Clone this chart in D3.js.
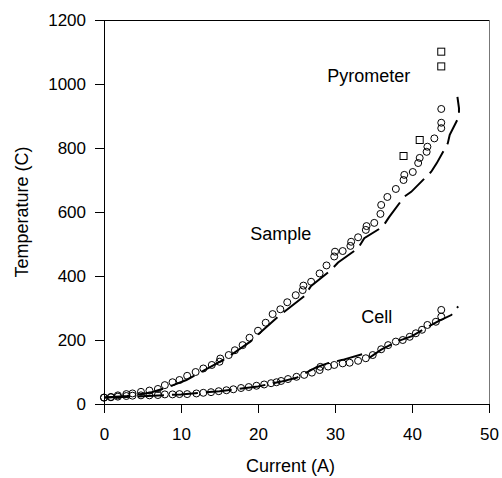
<!DOCTYPE html>
<html>
<head>
<meta charset="utf-8">
<script src="https://cdnjs.cloudflare.com/ajax/libs/d3/7.8.5/d3.min.js"></script>
<style>
  body { margin: 0; background: #fff; }
  .chart text { font-family: "Liberation Sans", Arial, sans-serif; fill: #000; }
</style>
</head>
<body>
<div class="chart"></div>
<script>
// Temperature vs current chart

// ---- data ----
var sampleCurrent = [0, 0.9, 1.8, 2.9, 3.7, 4.8, 5.9, 7.0, 7.9, 8.9, 9.8, 10.8, 11.9, 12.9, 14.0, 15.0, 15.1,
    16.2, 17.0, 18.0, 18.9, 20.0, 21.0, 21.9, 22.9, 23.8, 24.9, 25.8, 25.9, 26.9, 28.0, 28.9, 29.9, 30.0,
    31.0, 32.0, 32.1, 33.0, 34.0, 34.1, 35.1, 35.9, 36.0, 36.8, 37.9, 38.9, 39.0, 40.1, 40.8, 41.0, 41.9,
    42.0, 42.9, 43.8, 43.8, 43.8];
var sampleTemp = [20, 22, 27, 31, 33, 38, 42, 47, 59, 68, 75, 88, 100, 111, 122, 132, 142,
    153, 168, 184, 207, 229, 254, 281, 296, 318, 340, 356, 370, 382, 408, 433, 461, 476,
    478, 494, 507, 521, 544, 556, 566, 594, 622, 647, 672, 700, 716, 725, 753, 769, 788,
    804, 830, 862, 879, 922];

var sampleLineCurrent = [0, 3, 6, 8, 10.7, 13, 16, 19, 22.6, 26, 26.9, 29.5, 30.4, 33, 33.8, 36.2, 37.0,
    39.0, 39.9, 42.5, 43.2, 44.65, 44.9, 46.1, 46.1, 45.9];
var sampleLineTemp = [20, 25, 35, 50, 75, 105, 145, 195, 273, 337, 369, 419, 442, 487, 518, 554, 583,
    648, 663, 726, 752, 815, 841, 898, 925, 960];

var cellCurrent = [0, 0.9, 1.8, 2.9, 3.7, 4.8, 5.9, 7.0, 7.9, 8.9, 9.8, 10.8, 12.0, 12.9, 13.9, 14.9, 15.9,
    16.8, 17.8, 18.8, 19.8, 20.8, 21.7, 22.4, 23.0, 23.9, 25.0, 26.0, 27.0, 28.0, 28.1, 29.1, 29.9, 31.0,
    31.9, 33.0, 34.0, 34.9, 36.0, 36.9, 37.9, 38.8, 39.7, 40.5, 41.3, 42.0, 43.1, 43.8, 43.8];
var cellTemp = [20, 21, 23, 25, 26, 27, 27, 28, 30, 30, 31, 31, 33, 35, 37, 40, 43,
    46, 50, 53, 57, 61, 65, 68, 72, 78, 85, 91, 98, 106, 116, 117, 122, 127,
    129, 135, 143, 153, 171, 184, 195, 200, 210, 221, 232, 247, 257, 273, 294];

var cellLineCurrent = [0, 5, 10, 15, 20, 23, 25, 27.6, 29, 31, 33.6, 34.5, 36, 38, 40, 42, 43.5, 45.1, 46];
var cellLineTemp = [20, 24, 30, 40, 55, 70, 82, 115, 127, 138, 156, 145, 170, 195, 212, 240, 260, 278, 305];

var pyroCurrent = [38.9, 41.0, 43.8, 43.8];
var pyroTemp = [775, 825, 1055, 1101];

var xTicks = [0, 10, 20, 30, 40, 50];
var yTicks = [0, 200, 400, 600, 800, 1000, 1200];

var labels = [
    { text: "Pyrometer", x: 29, y: 1006 },
    { text: "Sample", x: 19, y: 512 },
    { text: "Cell", x: 33.4, y: 253 }
];

var svgWidth = 502;
var svgHeight = 478;

var margin = {
    top: 20,
    right: 13,
    bottom: 74,
    left: 104
};

var width = svgWidth - margin.left - margin.right;
var height = svgHeight - margin.top - margin.bottom;

var svg = d3.select(".chart")
    .append("svg")
    .attr("width", svgWidth)
    .attr("height", svgHeight);

var chartGroup = svg.append("g")
    .attr("transform", `translate(${margin.left}, ${margin.top})`);

// scales
var xLinearScale = d3.scaleLinear()
    .domain([0, 50])
    .range([0, width]);

var yLinearScale = d3.scaleLinear()
    .domain([0, 1200])
    .range([height, 0]);

// frame (top and right)
chartGroup.append("line")
    .attr("x1", 0).attr("x2", width)
    .attr("y1", 0.5).attr("y2", 0.5)
    .attr("stroke", "#000");

chartGroup.append("line")
    .attr("x1", width + 0.5).attr("x2", width + 0.5)
    .attr("y1", 0).attr("y2", height)
    .attr("stroke", "#777");

// axes
var bottomAxis = d3.axisBottom(xLinearScale)
    .tickValues(xTicks)
    .tickFormat(d3.format("d"))
    .tickSizeOuter(0)
    .tickSizeInner(9)
    .tickPadding(15);

var leftAxis = d3.axisLeft(yLinearScale)
    .tickValues(yTicks)
    .tickFormat(d3.format("d"))
    .tickSizeOuter(0)
    .tickSizeInner(9)
    .tickPadding(9);

var xAxisG = chartGroup.append("g")
    .attr("transform", `translate(0, ${height})`)
    .call(bottomAxis);

var yAxisG = chartGroup.append("g")
    .call(leftAxis);

[xAxisG, yAxisG].forEach(function (g) {
    g.selectAll("text").style("font-size", "17px").style("font-family", "'Liberation Sans', Arial, sans-serif");
    g.select(".domain").attr("stroke", "#000");
    g.selectAll(".tick line").attr("stroke", "#000");
});

// lines
var line = d3.line()
    .x(d => xLinearScale(d[0]))
    .y(d => yLinearScale(d[1]));

var sampleLine = d3.zip(sampleLineCurrent, sampleLineTemp);
var cellLine = d3.zip(cellLineCurrent, cellLineTemp);

[sampleLine, cellLine].forEach(function (pts) {
    chartGroup.append("path")
        .datum(pts)
        .attr("d", line)
        .attr("fill", "none")
        .attr("stroke", "#000")
        .attr("stroke-width", 2)
        .attr("stroke-dasharray", "26,8");
});

// circles
var circleData = d3.zip(sampleCurrent, sampleTemp).concat(d3.zip(cellCurrent, cellTemp));

chartGroup.selectAll("circle")
    .data(circleData)
    .enter()
    .append("circle")
    .attr("cx", d => xLinearScale(d[0]))
    .attr("cy", d => yLinearScale(d[1]))
    .attr("r", 3.5)
    .attr("fill", "none")
    .attr("stroke", "#000")
    .attr("stroke-width", 1);

// pyrometer squares
chartGroup.selectAll(".pyro")
    .data(d3.zip(pyroCurrent, pyroTemp))
    .enter()
    .append("rect")
    .attr("class", "pyro")
    .attr("x", d => xLinearScale(d[0]) - 3.5)
    .attr("y", d => yLinearScale(d[1]) - 3.5)
    .attr("width", 7)
    .attr("height", 7)
    .attr("fill", "none")
    .attr("stroke", "#000")
    .attr("stroke-width", 1);

// series labels
chartGroup.selectAll(".seriesLabel")
    .data(labels)
    .enter()
    .append("text")
    .attr("class", "seriesLabel")
    .attr("x", d => xLinearScale(d.x))
    .attr("y", d => yLinearScale(d.y))
    .style("font-size", "18px")
    .text(d => d.text);

// axis titles
chartGroup.append("text")
    .attr("transform", "rotate(-90)")
    .attr("x", 0 - (height / 2))
    .attr("y", 0 - margin.left + 28)
    .attr("text-anchor", "middle")
    .style("font-size", "18px")
    .text("Temperature (C)");

chartGroup.append("text")
    .attr("x", width / 2 - 6)
    .attr("y", height + 68)
    .attr("text-anchor", "middle")
    .style("font-size", "18px")
    .text("Current (A)");
</script>
</body>
</html>
